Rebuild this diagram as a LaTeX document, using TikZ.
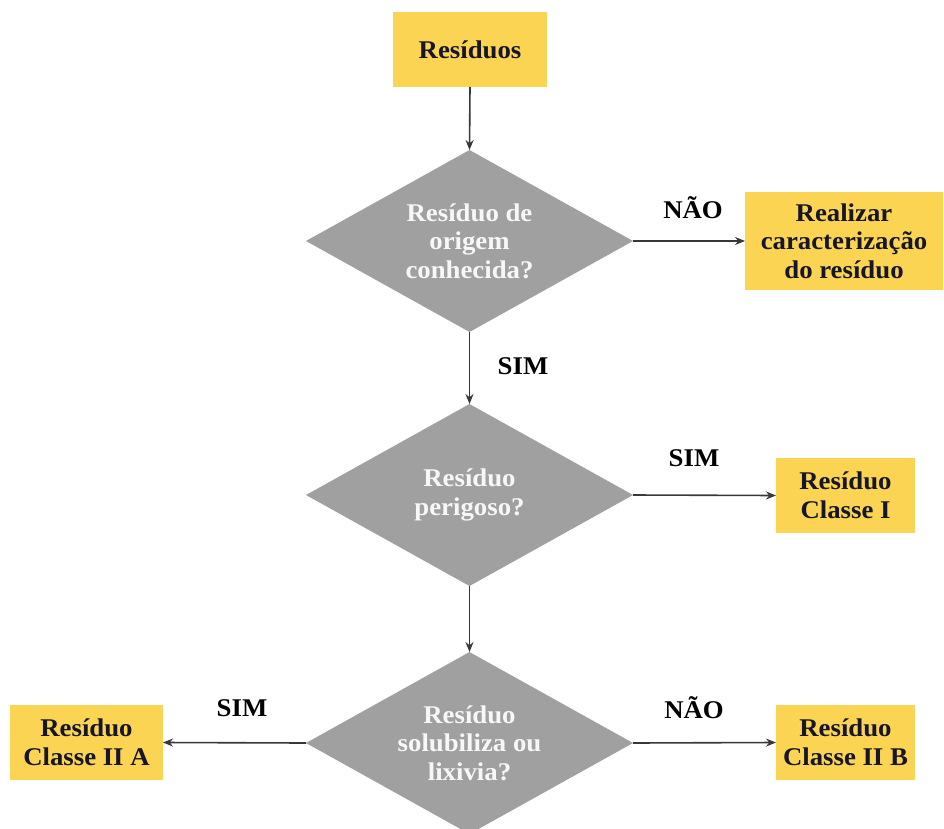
\documentclass[tikz,border=0pt]{standalone}
\usepackage{fontspec}
\setmainfont{Liberation Serif}
\newfontfamily\libserif{Liberation Serif}[FakeStretch=1.05]
\usetikzlibrary{shapes.geometric,arrows.meta}
\definecolor{boxyellow}{RGB}{250,212,82}
\definecolor{diagray}{RGB}{160,160,160}
\definecolor{boxtext}{RGB}{22,22,40}
\definecolor{arrowgray}{RGB}{55,55,60}
\tikzset{
  ybox/.style={fill=boxyellow, draw=none, text=boxtext, align=center, inner sep=0pt, outer sep=0pt,
    font=\libserif\fontsize{25.5}{28.5}\selectfont\bfseries},
  dia/.style={diamond, aspect=1.8, fill=diagray, draw=none, text=white!94!gray, align=center, inner sep=0pt, outer sep=0pt,
    minimum width=327pt, minimum height=182pt, font=\libserif\fontsize{25.5}{28.5}\selectfont\bfseries},
  lbl/.style={text=black, font=\libserif\fontsize{25.5}{28.5}\selectfont\bfseries, inner sep=0pt},
  conn/.style={draw=arrowgray, line width=1.6pt, -{Stealth[length=10pt,width=8pt]}}
}
\begin{document}
\begin{tikzpicture}[x=1pt,y=-1pt]
\useasboundingbox (0,0) rectangle (944,829);
\clip (0,0) rectangle (944,829);
\node[ybox, minimum width=154pt, minimum height=75pt] (res) at (470,49.5) {Resíduos};
\node[dia] (d1) at (469.5,241) {Resíduo de\\origem\\conhecida?};
\node[ybox, minimum width=198pt, minimum height=98pt] (carac) at (844,241) {Realizar\\caracterização\\do resíduo};
\node[dia] (d2) at (469.5,495) {Resíduo\\perigoso?};
\node[ybox, minimum width=139pt, minimum height=75pt] (c1) at (845.5,495.5) {Resíduo\\Classe I};
\node[dia] (d3) at (469.5,743) {Resíduo\\solubiliza ou\\lixivia?};
\node[ybox, minimum width=153pt, minimum height=75pt] (c2a) at (86.5,742.5) {Resíduo\\Classe II A};
\node[ybox, minimum width=139pt, minimum height=75pt] (c2b) at (845.5,742.5) {Resíduo\\Classe II B};
\draw[conn] (res.south) -- (d1.north);
\draw[conn] (d1.east) -- (carac.west);
\draw[conn] (d1.south) -- (d2.north);
\draw[conn] (d2.east) -- (c1.west);
\draw[conn] (d2.south) -- (d3.north);
\draw[conn] (d3.west) -- (c2a.east);
\draw[conn] (d3.east) -- (c2b.west);
\node[lbl] (l1) at (693,208) {NÃO};
\node[lbl] (l2) at (523,366) {SIM};
\node[lbl] (l3) at (694,458) {SIM};
\node[lbl] (l4) at (242,708) {SIM};
\node[lbl] (l5) at (694,708) {NÃO};
\end{tikzpicture}
\end{document}
